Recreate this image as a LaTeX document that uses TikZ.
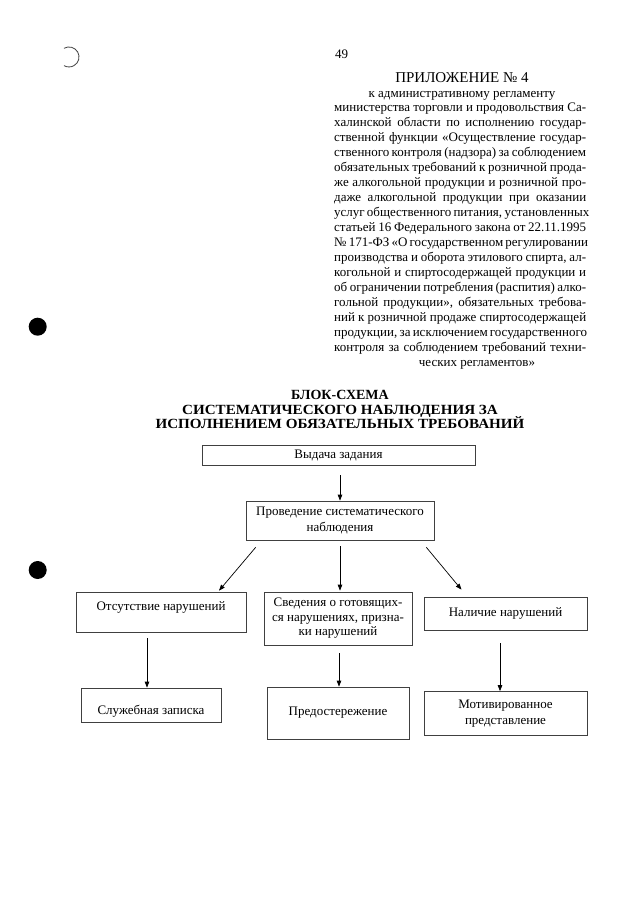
\documentclass[tikz,border=0pt]{standalone}
\usepackage{fontspec}
\setmainfont{Liberation Serif}
\usetikzlibrary{arrows.meta,calc}
\newcommand\bodyline[3]{\node[body] (#1) at (334,#2) {\makebox[252pt][s]{#3}};}
\begin{document}
\begin{tikzpicture}[x=1pt,y=-1pt,
  box/.style={draw=black!75, line width=0.7pt, inner sep=2pt, align=center, font=\fontsize{13}{16}\selectfont},
  arr/.style={draw=black, line width=0.7pt, -{Triangle[length=6pt,width=4.5pt]}},
  body/.style={anchor=base west, inner sep=0pt, font=\fontsize{13}{15}\selectfont},
  plain/.style={anchor=base, inner sep=0pt},
  ttl/.style={anchor=base, inner sep=0pt, font=\fontsize{14}{14}\selectfont\bfseries},
]
\fill[white] (0,0) rectangle (640,905);
\useasboundingbox (0,0) rectangle (640,905);

% marks in the margin
\draw[line width=0.8pt, black!75] (64,48.3) arc[start angle=120,end angle=-120,radius=10pt];
\fill (37.7,326.7) circle (9pt);
\fill (37.7,570) circle (9pt);

% header
\node[plain, font=\fontsize{13}{13}\selectfont] (pg) at (341.5,58.3) {49};
\node[plain, font=\fontsize{15}{15}\selectfont] (pril) at (462,82.7) {ПРИЛОЖЕНИЕ № 4};
\node[plain, font=\fontsize{13}{15}\selectfont] (l1) at (462,97) {к административному регламенту};
\bodyline{l2}{111.9}{министерства торговли и продовольствия Са-}
\bodyline{l3}{126.9}{халинской области по исполнению государ-}
\bodyline{l4}{141.8}{ственной функции «Осуществление государ-}
\bodyline{l5}{156.8}{ственного контроля (надзора) за соблюдением}
\bodyline{l6}{171.8}{обязательных требований к розничной прода-}
\bodyline{l7}{186.7}{же алкогольной продукции и розничной про-}
\bodyline{l8}{201.6}{даже алкогольной продукции при оказании}
\bodyline{l9}{216.6}{услуг общественного питания, установленных}
\bodyline{l10}{231.5}{статьей 16 Федерального закона от 22.11.1995}
\bodyline{l11}{246.5}{№ 171-ФЗ «О государственном регулировании}
\bodyline{l12}{261.4}{производства и оборота этилового спирта, ал-}
\bodyline{l13}{276.3}{когольной и спиртосодержащей продукции и}
\bodyline{l14}{291.3}{об ограничении потребления (распития) алко-}
\bodyline{l15}{306.2}{гольной продукции»,  обязательных требова-}
\bodyline{l16}{321.2}{ний к розничной продаже спиртосодержащей}
\bodyline{l17}{336.1}{продукции, за исключением государственного}
\bodyline{l18}{351.0}{контроля за соблюдением требований техни-}
\node[plain, font=\fontsize{13}{15}\selectfont] (l19) at (477,366) {ческих регламентов»};

% title
\node[ttl] (t1) at (340,399.5) {БЛОК-СХЕМА};
\node[ttl] (t2) at (340,414) {\scalebox{1.08}[1]{СИСТЕМАТИЧЕСКОГО НАБЛЮДЕНИЯ ЗА}};
\node[ttl] (t3) at (340,428) {\scalebox{1.08}[1]{ИСПОЛНЕНИЕМ ОБЯЗАТЕЛЬНЫХ ТРЕБОВАНИЙ}};

% boxes
\node[box, minimum width=273pt, minimum height=20pt] (vyd) at (338.5,455) {Выдача задания};
\node[box, minimum width=188pt, minimum height=39pt] (prov) at (340,520.5) {Проведение систематического\\наблюдения};
\node[box, minimum width=170pt, minimum height=40pt, text height=9pt, text depth=12pt] (ots) at (161,612) {Отсутствие нарушений};
\node[box, minimum width=148pt, minimum height=53pt, font=\fontsize{13}{14.5}\selectfont] (sved) at (338,618.5) {Сведения о готовящих-\\ся нарушениях, призна-\\ки нарушений};
\node[box, minimum width=163pt, minimum height=33pt] (nal) at (505.5,613.5) {Наличие нарушений};
\node[box, minimum width=140pt, minimum height=34pt, text height=19pt, text depth=0pt] (slu) at (151,705) {Служебная записка};
\node[box, minimum width=142pt, minimum height=52pt] (pred) at (338,713) {Предостережение};
\node[box, minimum width=163pt, minimum height=44pt] (mot) at (505.5,713.5) {Мотивированное\\представление};

% connectors
\draw[arr] ($(vyd.south)+(1.5,10)$) -- (prov.north);
\draw[arr] ($(prov.south west)+(10,7)$) -- ($(ots.north)+(58,-1)$);
\draw[arr] ($(prov.south)+(0,6)$) -- ($(sved.north)+(2,-1)$);
\draw[arr] ($(prov.south east)+(-8,7)$) -- ($(nal.north)+(-44,-7)$);
\draw[arr] ($(ots.south)+(-14,6)$) -- ($(slu.north)+(-4,0)$);
\draw[arr] ($(sved.south)+(1,8)$) -- ($(pred.north)+(1,0)$);
\draw[arr] ($(nal.south)+(-5.5,13)$) -- ($(mot.north)+(-5.5,0)$);
\end{tikzpicture}
\end{document}
